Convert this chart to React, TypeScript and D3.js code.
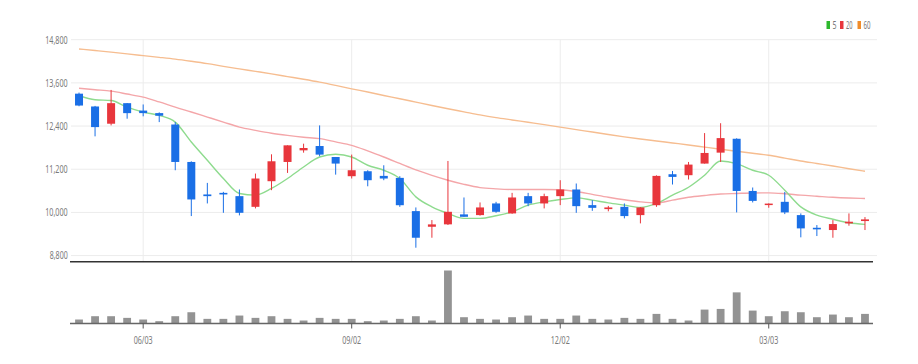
import React from 'react';
import * as d3 from 'd3';

const dates = [
  '05/06', '05/13', '05/20', '05/27', '06/03', '06/10', '06/17', '06/24', '07/01', '07/08',
  '07/15', '07/22', '07/29', '08/05', '08/12', '08/19', '08/26', '09/02', '09/09', '09/16',
  '09/23', '09/30', '10/07', '10/14', '10/21', '10/28', '11/04', '11/11', '11/18', '11/25',
  '12/02', '12/09', '12/16', '12/23', '12/30', '01/06', '01/13', '01/20', '01/27', '02/03',
  '02/10', '02/17', '02/24', '03/03', '03/09', '03/16', '03/23', '03/30', '04/06', '04/13',
];

const opens = [
  13300, 12944, 12465, 13036, 12830, 12760, 12443, 11402, 10499, 10543,
  10452, 10155, 10867, 11402, 11725, 11845, 11540, 11006, 11144, 11015,
  10960, 10036, 9601, 9668, 9945, 9925, 10249, 9972, 10452, 10249,
  10452, 10637, 10202, 10092, 10155, 9925, 10200, 11061, 11034, 11357,
  11661, 12047, 10596, 10210, 10294, 9925, 9573, 9510, 9695, 9760,
];
const highs = [
  13330, 12960, 13404, 13040, 13000, 12780, 12510, 11420, 10820, 10571,
  10637, 11080, 11615, 11864, 11910, 12418, 11540, 11607, 11172, 11310,
  11006, 10138, 9787, 11430, 10415, 10277, 10294, 10543, 10543, 10520,
  10895, 10803, 10340, 10180, 10249, 10150, 11030, 11152, 11402, 12205,
  12479, 12060, 10692, 10250, 10570, 9972, 9648, 9787, 9972, 9870,
];
const lows = [
  12950, 12114, 12418, 12604, 12670, 12510, 11172, 9898, 10249, 9989,
  9917, 10111, 10618, 11097, 11660, 11560, 11050, 10942, 10726, 10895,
  10155, 9019, 9296, 9650, 9878, 9910, 9990, 9960, 10172, 10111,
  10202, 9989, 10044, 10030, 9834, 9695, 10155, 10775, 10914, 11357,
  11402, 10000, 10277, 10130, 9953, 9307, 9343, 9296, 9630, 9510,
];
const closes = [
  12970, 12371, 13036, 12759, 12760, 12687, 11402, 10360, 10452, 10499,
  9989, 10942, 11421, 11864, 11790, 11606, 11357, 11172, 10895, 10942,
  10200, 9296, 9667, 10017, 9878, 10138, 10017, 10415, 10249, 10452,
  10637, 10174, 10127, 10138, 9898, 10138, 11015, 10987, 11329, 11652,
  12065, 10596, 10320, 10245, 10000, 9556, 9529, 9676, 9741, 9806,
];
const volumes = [
  120, 220, 220, 170, 120, 70, 220, 340, 140, 140,
  240, 170, 220, 140, 90, 170, 140, 140, 70, 90,
  140, 220, 90, 1600, 190, 140, 120, 190, 240, 140,
  140, 240, 140, 120, 170, 140, 290, 140, 90, 420,
  440, 940, 390, 220, 370, 340, 190, 270, 190, 290,
];
const ma5 = [
  13249, 13130, 13110, 12925, 12787, 12695, 12510, 11956, 11449, 10942,
  10526, 10479, 10665, 10942, 11263, 11540, 11615, 11540, 11310, 11172,
  10942, 10432, 10155, 9972, 9834, 9834, 9906, 10017, 10202, 10294,
  10360, 10405, 10340, 10266, 10202, 10138, 10249, 10480, 10700, 11033,
  11430, 11357, 11172, 11033, 10618, 10155, 9925, 9810, 9712, 9668,
];
const ma20 = [
  13451, 13410, 13370, 13290, 13203, 13070, 12925, 12790, 12650, 12510,
  12371, 12280, 12200, 12140, 12090, 12050, 11960, 11864, 11710, 11540,
  11360, 11180, 11030, 10895, 10780, 10690, 10655, 10637, 10637, 10637,
  10630, 10580, 10500, 10420, 10350, 10294, 10265, 10340, 10420, 10470,
  10510, 10526, 10540, 10543, 10520, 10480, 10450, 10420, 10400, 10388,
];
const ma60 = [
  14543, 14500, 14455, 14405, 14357, 14310, 14260, 14200, 14135, 14060,
  13989, 13920, 13850, 13775, 13700, 13620, 13530, 13435, 13345, 13250,
  13160, 13065, 12970, 12880, 12795, 12710, 12635, 12570, 12505, 12440,
  12370, 12300, 12235, 12165, 12100, 12040, 11985, 11930, 11875, 11815,
  11755, 11698, 11645, 11588, 11510, 11430, 11360, 11290, 11215, 11144,
];
const priceTicks = [8800, 10000, 11200, 12400, 13600, 14800];
const dateTicks = ['06/03', '09/02', '12/02', '03/03'];
const legendItems = ['5', '20', '60'];

const UP = '#e8363c';
const DOWN = '#1a6fe6';
const FONT = "'Noto Sans', 'DejaVu Sans', sans-serif";

export default function App() {
  const left = 71;
  const right = 873;
  const x = d3.scaleBand<string>().domain(dates).range([left, right]).padding(0);
  const bw = x.bandwidth();
  const cx = (d: string) => (x(d) as number) + bw / 2;
  const y = d3.scaleLinear().domain([8630, 14800]).range([261.7, 39.7]);
  const yv = d3.scaleLinear().domain([0, 1600]).range([323.5, 270.5]);
  const fmt = d3.format(',');

  const lineGen = (vals: number[]) =>
    d3
      .line<number>()
      .x((_, i) => cx(dates[i]))
      .y((v) => y(v))
      .curve(d3.curveMonotoneX)(vals) || '';

  const maLines = [
    { vals: ma60, color: '#f6bd90' },
    { vals: ma20, color: '#f4a6a9' },
    { vals: ma5, color: '#8edb8e' },
  ];
  const legendColors = ['#2db82d', '#e8363c', '#f08c2a'];
  const legendX = [826.5, 840, 857.5];
  const legendW = [4, 6.5, 7];

  const bodyW = 8;

  return (
    <svg
      width={918}
      height={364}
      style={{ position: 'absolute', left: 0, top: 0, background: '#fff' }}
      fontFamily={FONT}
    >
      {priceTicks.map((t) => (
        <line key={'g' + t} x1={left} x2={right + 4} y1={y(t)} y2={y(t)} stroke="#ececec" strokeWidth={1} />
      ))}
      {dateTicks.map((d) => (
        <line key={'v' + d} x1={cx(d)} x2={cx(d)} y1={y(14800)} y2={261.7} stroke="#ececec" strokeWidth={1} />
      ))}
      {priceTicks.map((t) => {
        const s = fmt(t);
        return (
          <text
            key={'yl' + t}
            x={67.7}
            y={y(t)}
            dy="0.35em"
            textAnchor="end"
            fontSize={11}
            fill="#7a7a7a"
            textLength={s.length >= 6 ? 22.5 : 18}
            lengthAdjust="spacingAndGlyphs"
          >
            {s}
          </text>
        );
      })}
      {maLines.map((m, i) => (
        <path key={'ma' + i} d={lineGen(m.vals)} fill="none" stroke={m.color} strokeWidth={1.4} />
      ))}
      {dates.map((d, i) => {
        const o = opens[i];
        const c = closes[i];
        const up = c >= o;
        const col = up ? UP : DOWN;
        const top = y(Math.max(o, c));
        const bot = y(Math.min(o, c));
        return (
          <g key={'c' + i}>
            <line x1={cx(d)} x2={cx(d)} y1={y(highs[i])} y2={y(lows[i])} stroke={col} strokeWidth={1} />
            <rect x={cx(d) - bodyW / 2} y={top} width={bodyW} height={Math.max(1.5, bot - top)} fill={col} />
          </g>
        );
      })}
      <line x1={70} x2={right} y1={261.7} y2={261.7} stroke="#333" strokeWidth={1.5} />
      {dates.map((d, i) => (
        <rect
          key={'vb' + i}
          x={cx(d) - 3.9}
          y={yv(volumes[i])}
          width={7.8}
          height={yv(0) - yv(volumes[i])}
          fill="#939393"
        />
      ))}
      <line x1={70} x2={right} y1={yv(0)} y2={yv(0)} stroke="#666" strokeWidth={1.5} />
      {dateTicks.map((d) => (
        <g key={'xt' + d}>
          <line x1={cx(d)} x2={cx(d)} y1={yv(0)} y2={yv(0) + 5} stroke="#555" strokeWidth={1} />
          <text
            x={cx(d)}
            y={344}
            textAnchor="middle"
            fontSize={11}
            fill="#7a7a7a"
            textLength={19}
            lengthAdjust="spacingAndGlyphs"
          >
            {d}
          </text>
        </g>
      ))}
      {legendItems.map((l, i) => (
        <g key={'lg' + l}>
          <rect x={legendX[i]} y={21} width={3.5} height={8} fill={legendColors[i]} />
          <text
            x={legendX[i] + 6}
            y={29}
            fontSize={10.5}
            fill="#777"
            textLength={legendW[i]}
            lengthAdjust="spacingAndGlyphs"
          >
            {l}
          </text>
        </g>
      ))}
    </svg>
  );
}
